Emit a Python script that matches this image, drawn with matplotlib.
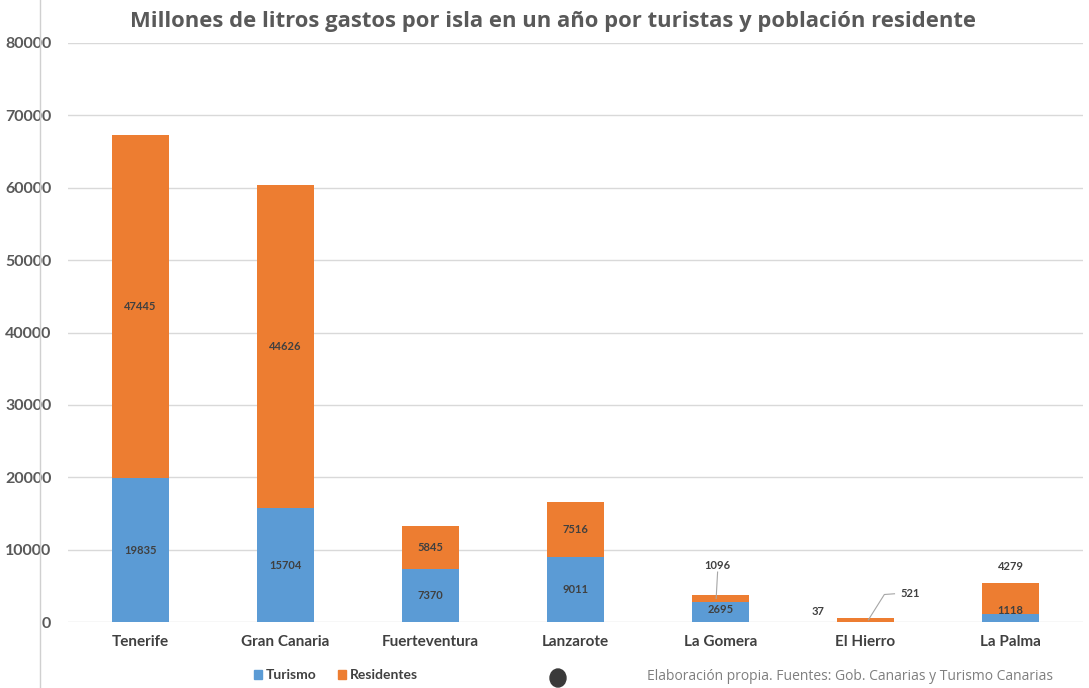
import matplotlib
matplotlib.use("Agg")
import matplotlib.pyplot as plt
from matplotlib.lines import Line2D
from matplotlib.patches import Patch, Ellipse

islas = ["Tenerife", "Gran Canaria", "Fuerteventura", "Lanzarote", "La Gomera", "El Hierro", "La Palma"]
turismo = [19835, 15704, 7370, 9011, 2695, 37, 1118]
residentes = [47445, 44626, 5845, 7516, 1096, 521, 4279]
yticks = [0, 10000, 20000, 30000, 40000, 50000, 60000, 70000, 80000]

AZUL, NARANJA = "#5B9BD5", "#ED7D31"
GRIS, GRID, TXT = "#595959", "#d9d9d9", "#404040"

fig = plt.figure(figsize=(10.89, 6.88), dpi=100)
ax = fig.add_axes([68 / 1089, 1 - 622 / 688, (1083 - 68) / 1089, (622 - 43) / 688])

x = list(range(len(islas)))
ax.bar(x, turismo, width=0.39, color=AZUL, zorder=3)
ax.bar(x, residentes, width=0.39, bottom=turismo, color=NARANJA, zorder=3)

ax.set_xlim(-0.5, len(islas) - 0.5)
ax.set_ylim(0, 80000)
ax.set_yticks(yticks)
ax.set_yticklabels([str(v) for v in yticks], family="Lato", fontweight="bold",
                   fontsize=11.5, color=GRIS)
ax.set_xticks(x)
ax.set_xticklabels(islas, family="Lato", fontweight="bold", fontsize=11, color=TXT)
ax.tick_params(length=0, axis="y", pad=12)
ax.tick_params(length=0, axis="x", pad=9)
ax.grid(axis="y", color=GRID, lw=1, zorder=0)
for s in ax.spines.values():
    s.set_visible(False)

lab = dict(family="Lato", fontweight="bold", fontsize=8, color=TXT, ha="center", va="center", zorder=5)
# etiquetas dentro de las barras grandes
for i in range(4):
    ax.text(i, turismo[i] / 2, str(turismo[i]), **lab)
    ax.text(i, turismo[i] + residentes[i] / 2, str(residentes[i]), **lab)

# La Gomera
ax.text(4, 1700, str(turismo[4]), **lab)
ax.text(3.98, 7850, str(residentes[4]), **lab)
ax.plot([3.97, 3.98], [turismo[4] + residentes[4] * 0.5, 6900], color="#a6a6a6", lw=0.8, zorder=4)
# El Hierro
ax.text(4.67, 1500, str(turismo[5]), **lab)
ax.text(5.31, 3900, str(residentes[5]), **lab)
ax.plot([5.02, 5.13, 5.2], [300, 3800, 3900], color="#a6a6a6", lw=0.8, zorder=4)
# La Palma
ax.text(6, 1550, str(turismo[6]), **lab)
ax.text(6, 7650, str(residentes[6]), **lab)

fig.suptitle("Millones de litros gastos por isla en un año por turistas y población residente",
             x=553 / 1089, y=1 - 22 / 688, va="center", family="Open Sans",
             fontweight="bold", fontsize=15.8, color=GRIS)

handles = [Patch(color=AZUL), Patch(color=NARANJA)]
fig.legend(handles, ["Turismo", "Residentes"], loc="center", bbox_to_anchor=(336 / 1089, 1 - 675 / 688),
           ncol=2, frameon=False, handlelength=0.6, handleheight=0.6, handletextpad=0.3,
           columnspacing=1.5, prop={"family": "Lato", "weight": "bold", "size": 10},
           labelcolor=TXT)

fig.text(1053 / 1089, 1 - 677 / 688, "Elaboración propia. Fuentes: Gob. Canarias y Turismo Canarias",
         ha="right", va="center", family="Open Sans", fontsize=10, color="#7f7f7f")

# borde izquierdo de la captura y punto oscuro
fig.add_artist(Line2D([40 / 1089, 40 / 1089], [0, 1], color="#d0d0d0", lw=1))
fig.add_artist(Ellipse((558 / 1089, 1 - 678 / 688), 16 / 1089, 18 / 688, color="#3a3a3a"))

fig.savefig("out.png", dpi=100, facecolor="white")
